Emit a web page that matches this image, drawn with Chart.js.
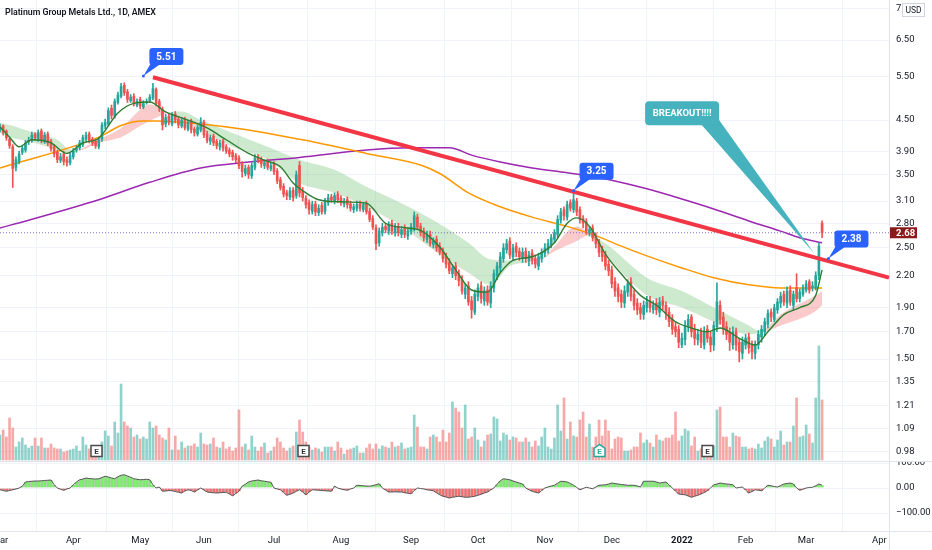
<!DOCTYPE html>
<html>
<head>
<meta charset="utf-8">
<script src="https://cdn.jsdelivr.net/npm/chart.js@4.4.1/dist/chart.umd.min.js"></script>
<style>
  html, body { margin: 0; padding: 0; background: #fff; overflow: hidden; }
</style>
</head>
<body>
<canvas id="chart" width="932" height="550"></canvas>
<script>
// ---- data (one slot per trading day, Mar 1 2021 = 0) ----
const N = 280;
const monthIdx = [0, 23, 44, 64, 86, 107, 129, 150, 171, 192, 214, 234, 253, 276];
const monthLabels = ['Mar', 'Apr', 'May', 'Jun', 'Jul', 'Aug', 'Sep', 'Oct', 'Nov', 'Dec', '2022', 'Feb', 'Mar', 'Apr'];
const priceTicks = [7.5, 6.5, 5.5, 4.5, 3.9, 3.5, 3.1, 2.8, 2.5, 2.2, 1.9, 1.7, 1.5, 1.35, 1.21, 1.09, 0.98];
const oscTicks = [100, 0, -100];

const open = [
  4.30,4.38,4.28,4.12,3.98,3.62,3.72,3.88,3.92,4.08, 4.10,4.22,4.12,4.28,4.08,4.22,4.08,3.98,3.88,3.74,
  3.85,3.75,3.70,3.80,3.92,3.96,4.02,4.12,4.22,4.12, 4.08,3.98,4.12,4.38,4.42,4.75,4.58,4.88,5.02,5.28,
  5.12,4.92,5.02,4.82,4.95,4.78,4.88,4.92,4.98,5.18, 4.90,4.72,4.42,4.58,4.42,4.62,4.52,4.38,4.52,4.32,
  4.48,4.32,4.22,4.30,4.45,4.22,4.08,4.18,4.08,3.98, 4.08,3.98,3.92,3.88,3.82,3.78,3.68,3.52,3.62,3.48,
  3.62,3.80,3.76,3.65,3.72,3.60,3.68,3.56,3.42,3.32, 3.22,3.16,3.26,3.18,3.65,3.24,3.14,3.08,2.96,3.06,
  2.94,3.04,2.96,3.08,3.16,3.10,3.20,3.14,3.06,3.12, 3.06,2.98,3.00,3.06,2.98,3.06,2.96,2.86,2.74,2.56,
  2.68,2.76,2.70,2.80,2.68,2.76,2.66,2.74,2.64,2.70, 2.74,2.88,2.76,2.70,2.60,2.66,2.54,2.60,2.52,2.46,
  2.40,2.34,2.22,2.30,2.22,2.16,2.02,2.10,1.96,1.86, 2.00,2.10,1.96,2.06,1.94,2.08,2.20,2.28,2.38,2.48,
  2.58,2.40,2.52,2.46,2.38,2.46,2.36,2.44,2.38,2.30, 2.38,2.44,2.48,2.54,2.60,2.66,2.84,2.98,2.88,3.08,
  2.98,3.10,2.98,2.86,2.82,2.68,2.74,2.64,2.56,2.48, 2.42,2.32,2.26,2.14,2.08,2.02,1.94,2.04,2.14,2.02,
  1.94,1.90,1.84,1.90,1.96,1.88,1.94,1.86,1.96,1.92, 1.86,1.80,1.74,1.72,1.60,1.64,1.74,1.82,1.72,1.64,
  1.70,1.60,1.72,1.66,1.60,1.74,1.92,1.82,1.74,1.70, 1.60,1.70,1.62,1.54,1.60,1.66,1.60,1.54,1.60,1.66,
  1.70,1.76,1.86,1.80,1.88,1.94,2.02,1.94,2.06,1.92, 2.08,1.98,2.02,2.06,2.14,2.08,2.08,2.20,2.80
];
const high = [
  4.42,4.40,4.30,4.15,4.02,3.80,3.90,4.00,4.10,4.16, 4.26,4.25,4.30,4.32,4.25,4.26,4.12,4.02,3.92,3.86,
  3.90,3.80,3.86,3.95,4.00,4.10,4.20,4.26,4.26,4.16, 4.12,4.15,4.45,4.52,4.76,4.82,4.96,5.12,5.33,5.34,
  5.18,5.06,5.08,4.96,5.00,4.92,4.96,5.06,5.33,5.22, 4.95,4.78,4.62,4.64,4.66,4.68,4.58,4.56,4.56,4.50,
  4.52,4.36,4.40,4.55,4.50,4.28,4.20,4.22,4.12,4.10, 4.12,4.02,3.96,3.92,3.86,3.82,3.72,3.66,3.66,3.70,
  3.84,3.84,3.80,3.75,3.76,3.70,3.72,3.60,3.46,3.36, 3.26,3.30,3.30,3.56,3.72,3.30,3.18,3.12,3.10,3.10,
  3.05,3.08,3.14,3.20,3.20,3.22,3.24,3.18,3.14,3.16, 3.10,3.06,3.10,3.10,3.08,3.10,3.00,2.90,2.78,2.74,
  2.80,2.80,2.82,2.84,2.80,2.80,2.76,2.78,2.74,2.80, 2.95,2.92,2.80,2.74,2.70,2.70,2.62,2.64,2.56,2.50,
  2.44,2.38,2.32,2.34,2.26,2.20,2.12,2.14,2.00,2.06, 2.12,2.14,2.09,2.10,2.14,2.26,2.34,2.45,2.55,2.60,
  2.62,2.54,2.56,2.50,2.50,2.50,2.46,2.48,2.42,2.44, 2.49,2.55,2.60,2.66,2.72,2.90,3.00,3.02,3.10,3.12,
  3.22,3.14,3.02,2.90,2.86,2.76,2.78,2.68,2.60,2.52, 2.46,2.36,2.30,2.18,2.12,2.06,2.10,2.16,2.18,2.06,
  1.98,1.94,1.96,2.00,2.00,1.96,1.98,1.99,2.00,1.95, 1.90,1.84,1.78,1.75,1.69,1.79,1.84,1.84,1.76,1.72,
  1.73,1.74,1.75,1.70,1.78,2.13,1.96,1.86,1.78,1.73, 1.74,1.73,1.65,1.66,1.68,1.69,1.63,1.63,1.71,1.75,
  1.81,1.88,1.89,1.93,1.98,2.04,2.05,2.09,2.10,2.05, 2.22,2.07,2.11,2.15,2.16,2.14,2.24,2.56,2.83
];
const low = [
  4.26,4.20,4.10,3.95,3.30,3.56,3.68,3.84,3.88,4.02, 4.06,4.10,4.08,4.05,4.04,4.00,3.90,3.80,3.70,3.70,
  3.66,3.64,3.66,3.76,3.88,3.92,3.98,4.08,4.05,4.00, 3.95,3.94,4.08,4.32,4.38,4.52,4.54,4.84,4.98,5.04,
  4.88,4.88,4.80,4.78,4.74,4.74,4.84,4.88,4.94,4.80, 4.68,4.30,4.36,4.40,4.38,4.44,4.34,4.34,4.30,4.28,
  4.24,4.18,4.18,4.26,4.15,4.05,4.02,4.00,3.94,3.92, 3.90,3.86,3.80,3.74,3.70,3.60,3.46,3.48,3.44,3.44,
  3.58,3.70,3.62,3.60,3.58,3.56,3.50,3.36,3.26,3.16, 3.12,3.12,3.10,3.14,3.16,3.10,3.00,2.92,2.92,2.90,
  2.90,2.92,2.92,3.04,3.08,3.06,3.08,3.04,3.02,3.00, 2.96,2.94,2.96,2.96,2.95,2.92,2.82,2.72,2.48,2.52,
  2.64,2.68,2.66,2.66,2.64,2.64,2.62,2.62,2.60,2.66, 2.70,2.72,2.64,2.58,2.56,2.52,2.50,2.46,2.42,2.34,
  2.28,2.22,2.18,2.16,2.10,2.02,1.98,1.92,1.81,1.84, 1.96,1.94,1.92,1.92,1.90,2.04,2.16,2.24,2.34,2.44,
  2.38,2.36,2.40,2.36,2.34,2.34,2.30,2.32,2.28,2.26, 2.34,2.40,2.44,2.50,2.56,2.62,2.80,2.84,2.84,2.96,
  2.94,2.90,2.80,2.74,2.66,2.64,2.58,2.50,2.40,2.35, 2.26,2.20,2.08,2.00,1.95,1.90,1.90,2.00,1.96,1.88,
  1.84,1.80,1.80,1.86,1.86,1.85,1.84,1.82,1.88,1.80, 1.74,1.68,1.66,1.58,1.58,1.60,1.70,1.66,1.60,1.60,
  1.58,1.57,1.62,1.55,1.56,1.70,1.76,1.68,1.64,1.56, 1.57,1.56,1.48,1.50,1.57,1.54,1.50,1.50,1.57,1.62,
  1.67,1.73,1.78,1.78,1.85,1.90,1.92,1.90,1.92,1.88, 1.95,1.95,2.00,2.04,2.03,2.05,2.06,2.16,2.62
];
const close = [
  4.35,4.25,4.15,4.00,3.60,3.75,3.85,3.95,4.05,4.10, 4.20,4.15,4.25,4.10,4.20,4.05,3.95,3.85,3.75,3.80,
  3.72,3.70,3.82,3.90,3.95,4.05,4.15,4.20,4.10,4.05, 4.00,4.10,4.40,4.45,4.70,4.60,4.90,5.05,5.25,5.10,
  4.95,5.00,4.85,4.90,4.80,4.85,4.90,5.00,5.20,4.85, 4.75,4.40,4.55,4.45,4.60,4.50,4.40,4.50,4.35,4.45,
  4.30,4.25,4.35,4.45,4.20,4.10,4.15,4.05,4.00,4.05, 3.95,3.90,3.85,3.80,3.75,3.65,3.55,3.60,3.50,3.65,
  3.78,3.75,3.68,3.70,3.62,3.65,3.55,3.40,3.30,3.20, 3.18,3.25,3.15,3.50,3.22,3.15,3.05,2.98,3.05,2.95,
  3.00,2.95,3.10,3.15,3.12,3.18,3.12,3.08,3.10,3.05, 3.00,3.02,3.05,3.00,3.05,2.95,2.85,2.75,2.55,2.70,
  2.75,2.72,2.78,2.70,2.75,2.68,2.72,2.66,2.70,2.75, 2.90,2.75,2.68,2.62,2.65,2.55,2.58,2.50,2.45,2.38,
  2.32,2.25,2.28,2.20,2.15,2.05,2.08,1.95,1.88,2.02, 2.08,1.98,2.05,1.95,2.10,2.22,2.30,2.40,2.50,2.55,
  2.42,2.50,2.45,2.40,2.45,2.38,2.42,2.36,2.32,2.40, 2.45,2.50,2.55,2.62,2.68,2.85,2.95,2.90,3.05,3.00,
  3.12,2.95,2.85,2.80,2.70,2.72,2.62,2.55,2.45,2.40, 2.30,2.25,2.12,2.05,2.00,1.95,2.05,2.12,2.00,1.92,
  1.88,1.85,1.92,1.95,1.90,1.92,1.88,1.95,1.92,1.85, 1.78,1.72,1.70,1.62,1.65,1.75,1.80,1.70,1.65,1.68,
  1.62,1.70,1.65,1.60,1.75,1.95,1.80,1.72,1.68,1.62, 1.70,1.60,1.55,1.62,1.65,1.58,1.55,1.60,1.68,1.72,
  1.78,1.85,1.82,1.90,1.95,2.00,1.95,2.05,1.95,2.02, 1.98,2.04,2.08,2.12,2.06,2.10,2.20,2.52,2.68
];
const volume = [
  25,30,23,42,32,13,18,22,15,12, 14,22,14,22,12,12,16,12,11,11, 8,9,10,11,14,9,23,15,11,12,
  10,12,18,29,24,14,38,27,76,38, 34,32,23,25,21,23,21,38,32,34, 25,22,20,32,10,24,10,18,12,14,
  14,16,13,27,16,15,16,22,13,12, 18,11,13,9,12,50,13,16,10,24, 13,9,13,17,7,9,13,22,18,12,
  9,12,14,28,40,28,18,13,10,12, 11,8,13,13,13,9,18,12,6,10, 11,12,14,7,7,12,16,11,16,11,
  14,13,12,18,13,14,17,11,12,13, 45,33,13,13,11,23,25,23,18,30, 18,27,58,52,48,32,55,21,23,32,
  20,13,19,25,26,43,41,19,27,25, 20,23,22,18,18,22,18,13,19,14, 23,32,13,11,22,55,29,62,21,38,
  24,23,40,48,23,36,13,23,40,24, 40,29,11,21,23,22,9,9,10,13, 13,27,17,20,17,13,25,20,19,22,
  22,25,48,19,24,31,29,14,23,9, 11,12,10,14,14,50,53,23,23,13, 27,24,23,13,13,11,12,11,16,12,
  19,23,21,13,20,29,15,18,18,34, 62,23,24,35,26,17,62,114,60
];
const osc = [
  -7,-10,-13,-10,-7,-4,0,7,24,26, 27,28,28,29,30,31,32,13,0,-5, -9,-4,0,13,24,33,36,40,38,37,
  36,37,42,47,44,40,37,45,51,53, 48,43,37,35,33,34,35,33,13,0, 4,-13,-12,-10,-11,-14,-17,-20,-12,-7,
  -10,-16,-8,0,-8,-16,-18,-19,-20,-19, -18,-17,-24,-31,-22,-13,7,15,24,28, 30,32,29,27,25,23,0,-4,-7,-18,
  -29,-25,-20,-13,-7,-16,-27,-16,-7,-8, -9,-10,-11,-12,-13,7,0,-4,-7,-9, -4,0,11,10,9,8,7,10,13,17,
  0,-8,-16,-16,-15,-16,-16,-19,-21,-23, -10,0,-2,-4,-7,-9,-11,-19,-27,-33, -36,-40,-37,-35,-33,-35,-37,-37,-35,-33,
  -29,-25,-20,-16,-8,0,15,29,37,35, 33,28,24,20,16,0,-7,-13,-17,-20, -10,0,4,8,11,19,27,26,24,18,
  11,2,-7,-2,3,0,-3,4,11,12, 13,16,20,18,16,14,13,11,11,11, 8,4,27,27,27,27,24,20,22,24,
  12,0,-12,-24,-26,-27,-32,-37,-33,-29, -24,-18,-11,0,13,16,20,18,16,15, 13,0,2,4,-8,-20,-14,-7,-9,-11,
  0,11,9,6,4,10,16,18,20,16, 0,-9,-5,0,2,3,9,16,11
];
// moving averages read at sample days: [day, value]
const fastMA = [[0,4.36],[3,4.16],[6,3.98],[10,4.11],[16,4.05],[21,3.86],[26,4.05],[31,4.14],[37,4.65],[42,4.86],
  [47,4.89],[52,4.67],[59,4.50],[65,4.34],[71,4.11],[78,3.86],[83,3.74],[88,3.63],[92,3.37],[96,3.22],[100,3.12],
  [107,3.09],[115,3.07],[121,2.80],[128,2.74],[132,2.71],[138,2.51],[143,2.26],[148,2.06],[153,2.04],[157,2.23],
  [161,2.36],[167,2.40],[174,2.56],[178,2.80],[181,2.87],[185,2.76],[190,2.43],[196,2.18],[201,2.01],[206,1.92],
  [212,1.78],[217,1.73],[222,1.70],[226,1.73],[232,1.65],[237,1.60],[241,1.70],[246,1.84],[251,1.90],[256,2.01],[258,2.26]];
const ma100 = [[0,3.61],[31,4.16],[38,4.39],[45,4.48],[49,4.48],[63,4.42],[78,4.30],[94,4.12],[100,4.05],[115,3.86],
  [132,3.66],[138,3.52],[147,3.22],[157,3.02],[167,2.88],[178,2.76],[188,2.63],[193,2.55],[203,2.41],[214,2.28],
  [224,2.18],[235,2.11],[245,2.08],[258,2.08]];
const ma200 = [[0,2.74],[9,2.84],[31,3.12],[47,3.38],[63,3.61],[78,3.71],[94,3.79],[115,3.92],[129,3.96],[141,3.96],
  [148,3.83],[157,3.71],[167,3.61],[178,3.53],[188,3.45],[193,3.40],[203,3.28],[214,3.13],[224,2.99],[235,2.83],
  [245,2.70],[251,2.62],[258,2.56]];
// cloud: [day, slow edge, fast edge]
const cloud = [[0,4.44,4.24],[3,4.40,4.16],[10,4.26,4.07],[18,4.11,3.92],[22,3.93,3.86],[25,3.92,3.93],[31,4.06,4.12],
  [38,4.16,4.34],[44,4.38,4.72],[47,4.48,4.84],[50,4.58,4.76],[53,4.66,4.64],[57,4.68,4.52],[63,4.50,4.30],
  [73,4.24,3.98],[84,3.98,3.75],[94,3.75,3.37],[105,3.58,3.22],[115,3.31,3.02],[126,3.07,2.76],[136,2.84,2.48],
  [147,2.56,2.23],[154,2.37,2.11],[160,2.36,2.30],[166,2.36,2.34],[170,2.37,2.38],[173,2.44,2.48],[181,2.58,2.76],
  [185,2.65,2.66],[190,2.55,2.43],[203,2.18,2.01],[214,2.05,1.90],[224,1.90,1.78],[235,1.75,1.68],[239,1.70,1.70],
  [245,1.75,1.84],[256,1.87,2.01],[258,1.92,2.05]];
const trendLine = [[48, 5.48], [279, 2.18]];
const lastPrice = 2.68;
const callouts = [[45, 5.51, '5.51'], [180, 3.25, '3.25'], [260, 2.38, '2.38']];
const breakout = [255.5, 2.44, 'BREAKOUT!!!!'];
const earnings = [30, 95, 188, 222];

// ---- styling ----
const FONT = 'Roboto, "Liberation Sans", sans-serif';
const UP = '#26a69a', DOWN = '#ef5350';
const GRID = '#f0f3fa', EDGE = '#e0e3eb', TXT = '#131722';

function sparse(pairs, col) {
  const a = new Array(N).fill(null);
  pairs.forEach(p => { a[p[0]] = p[col]; });
  return a;
}
const labels = Array.from({length: N}, (_, i) => String(i));
const isUp = close.map((c, i) => c >= open[i]);

const lineBase = { type: 'line', pointRadius: 0, spanGaps: true, cubicInterpolationMode: 'monotone', fill: false };

const overlay = {
  id: 'overlay',
  afterDatasetsDraw(chart) {
    const { ctx, scales } = chart;
    const x = scales.x, y = scales.y, yo = scales.yo;
    ctx.save();
    // earnings markers
    earnings.forEach(d => {
      const px = Math.round(x.getPixelForValue(d)) + 0.5;
      const top = yo.top - 15.5;
      ctx.lineWidth = 1.5;
      ctx.fillStyle = '#fff';
      ctx.beginPath();
      if (d === 188) {
        ctx.strokeStyle = '#26a69a';
        ctx.moveTo(px - 5.5, top + 3); ctx.lineTo(px, top - 1); ctx.lineTo(px + 5.5, top + 3);
        ctx.lineTo(px + 5.5, top + 11); ctx.lineTo(px - 5.5, top + 11); ctx.closePath();
      } else {
        ctx.strokeStyle = '#4a4a4a';
        ctx.rect(px - 5.5, top, 11, 11);
      }
      ctx.fill(); ctx.stroke();
      ctx.fillStyle = d === 188 ? '#26a69a' : '#333';
      ctx.font = 'bold 8px ' + FONT;
      ctx.textAlign = 'center'; ctx.textBaseline = 'middle';
      ctx.fillText('E', px, top + 6);
    });
    // callouts
    function box(bx, by, w, h, r) {
      ctx.beginPath();
      ctx.moveTo(bx + r, by); ctx.lineTo(bx + w - r, by); ctx.quadraticCurveTo(bx + w, by, bx + w, by + r);
      ctx.lineTo(bx + w, by + h - r); ctx.quadraticCurveTo(bx + w, by + h, bx + w - r, by + h);
      ctx.lineTo(bx + r, by + h); ctx.quadraticCurveTo(bx, by + h, bx, by + h - r);
      ctx.lineTo(bx, by + r); ctx.quadraticCurveTo(bx, by, bx + r, by); ctx.closePath(); ctx.fill();
    }
    callouts.forEach(c => {
      const px = x.getPixelForValue(c[0]), py = y.getPixelForValue(c[1]);
      ctx.fillStyle = '#2962ff';
      ctx.beginPath(); ctx.moveTo(px + 7, py - 12); ctx.lineTo(px + 17, py - 12); ctx.lineTo(px, py); ctx.closePath(); ctx.fill();
      ctx.beginPath(); ctx.arc(px, py, 1.5, 0, Math.PI * 2); ctx.fill();
      box(px + 6, py - 28, 34, 17, 3);
      ctx.fillStyle = '#fff';
      ctx.font = 'bold 10px ' + FONT;
      ctx.textAlign = 'center'; ctx.textBaseline = 'middle';
      ctx.fillText(c[2], px + 23, py - 19);
    });
    const bpx = x.getPixelForValue(breakout[0]), bpy = y.getPixelForValue(breakout[1]);
    ctx.fillStyle = '#45b2be';
    ctx.beginPath(); ctx.moveTo(bpx - 113, bpy - 129); ctx.lineTo(bpx - 97, bpy - 136); ctx.lineTo(bpx, bpy); ctx.closePath(); ctx.fill();
    box(bpx - 169, bpy - 152, 74, 24, 4);
    ctx.fillStyle = '#fff';
    ctx.font = 'bold 9.5px ' + FONT;
    ctx.textAlign = 'center'; ctx.textBaseline = 'middle';
    ctx.fillText(breakout[2], bpx - 132, bpy - 140);
    ctx.restore();
  },
  afterDraw(chart) {
    const { ctx, scales, chartArea } = chart;
    const y = scales.y, yo = scales.yo;
    const sepY = Math.round(yo.top) + 0.5;
    ctx.save();
    // the oscillator pane clips the top of its first label
    ctx.fillStyle = '#fff';
    ctx.fillRect(chartArea.right + 1, sepY - 5, 932 - chartArea.right, 5);
    // pane separator, bottom edge and axis edge running through the label rows
    ctx.strokeStyle = EDGE; ctx.lineWidth = 1;
    ctx.beginPath();
    ctx.moveTo(0, sepY); ctx.lineTo(932, sepY);
    ctx.moveTo(chartArea.right, Math.round(chartArea.bottom) + 0.5); ctx.lineTo(932, Math.round(chartArea.bottom) + 0.5);
    ctx.moveTo(Math.round(chartArea.right) + 0.5, chartArea.bottom); ctx.lineTo(Math.round(chartArea.right) + 0.5, 550);
    ctx.stroke();
    // last price tag
    const py = y.getPixelForValue(lastPrice);
    ctx.fillStyle = '#8b1a1a';
    ctx.fillRect(chartArea.right + 1, py - 5.5, 27, 11);
    ctx.fillStyle = '#fff';
    ctx.font = 'bold 9.5px ' + FONT;
    ctx.textAlign = 'left'; ctx.textBaseline = 'middle';
    ctx.fillText(lastPrice.toFixed(2), chartArea.right + 7, py + 0.5);
    // currency box
    ctx.fillStyle = '#fff';
    ctx.fillRect(chartArea.right + 13, 2, 23, 15);
    ctx.strokeStyle = '#d1d4dc';
    ctx.strokeRect(chartArea.right + 13.5, 3.5, 22, 13);
    ctx.fillStyle = TXT;
    ctx.font = '8.5px ' + FONT;
    ctx.textAlign = 'center';
    ctx.fillText('USD', chartArea.right + 24.5, 10.5);
    // title, sized to the width it has in the picture
    const title = 'Platinum Group Metals Ltd., 1D, AMEX';
    ctx.textAlign = 'left';
    ctx.font = '600 10px ' + FONT;
    const size = 10 * 151 / ctx.measureText(title).width;
    ctx.font = '600 ' + size.toFixed(2) + 'px ' + FONT;
    ctx.fillText(title, 5, 12.5);
    ctx.restore();
  }
};

new Chart(document.getElementById('chart'), {
  data: {
    labels: labels,
    datasets: [
      { type: 'bar', yAxisID: 'yv', data: volume, grouped: false, barThickness: 2, order: 20,
        backgroundColor: volume.map((v, i) => isUp[i] ? 'rgba(38,166,154,0.5)' : 'rgba(239,83,80,0.5)') },
      Object.assign({}, lineBase, { data: sparse(cloud, 1), borderWidth: 0, borderColor: 'rgba(0,0,0,0)', order: 16,
        fill: { target: '+1', above: 'rgba(76,175,80,0.28)', below: 'rgba(239,83,80,0.3)' } }),
      Object.assign({}, lineBase, { data: sparse(cloud, 2), borderWidth: 0, borderColor: 'rgba(0,0,0,0)', order: 16 }),
      { type: 'bar', yAxisID: 'yo', data: osc, grouped: false, barPercentage: 1, categoryPercentage: 1, order: 14,
        borderWidth: { left: 1, right: 0, top: 0, bottom: 0 }, borderColor: 'rgba(70,70,70,0.3)', borderSkipped: false,
        backgroundColor: osc.map(v => v >= 0 ? '#7eea6e' : '#f07070') },
      { type: 'line', yAxisID: 'yo', data: osc, borderColor: '#555', borderWidth: 1, pointRadius: 0, order: 13 },
      Object.assign({}, lineBase, { data: sparse(ma200, 1), borderColor: '#9c27b0', borderWidth: 1.5, order: 12 }),
      Object.assign({}, lineBase, { data: sparse(ma100, 1), borderColor: '#ff9800', borderWidth: 1.5, order: 11 }),
      Object.assign({}, lineBase, { data: sparse([[0, lastPrice], [N - 1, lastPrice]], 1), borderColor: '#7e6cc8',
        borderWidth: 1, borderDash: [1, 2], cubicInterpolationMode: 'default', order: 10 }),
      { type: 'bar', data: low.map((l, i) => [l, high[i]]), grouped: false, barThickness: 1, order: 6,
        backgroundColor: isUp.map(u => u ? UP : DOWN) },
      { type: 'bar', data: open.map((o, i) => [o, close[i]]), grouped: false, barThickness: 2, order: 5,
        backgroundColor: isUp.map(u => u ? UP : DOWN) },
      Object.assign({}, lineBase, { data: sparse(fastMA, 1), borderColor: '#2e7d32', borderWidth: 1.4, order: 4 }),
      Object.assign({}, lineBase, { data: sparse(trendLine, 1), borderColor: '#f23645', borderWidth: 4,
        cubicInterpolationMode: 'default', order: 1 })
    ]
  },
  options: {
    responsive: false,
    animation: false,
    events: [],
    layout: { padding: 0 },
    plugins: { legend: { display: false }, tooltip: { enabled: false } },
    scales: {
      x: {
        type: 'category', offset: false,
        grid: { color: GRID, drawTicks: false },
        border: { color: EDGE },
        afterBuildTicks: s => { s.ticks = monthIdx.map(v => ({ value: v })); },
        afterFit: s => { s.height = 19; s.paddingLeft = 0; s.paddingRight = 0; },
        ticks: {
          autoSkip: false, maxRotation: 0, padding: 4, color: TXT,
          font: c => ({ family: FONT, size: 9.5, weight: (c.tick && c.tick.value === 214) ? 'bold' : 'normal' }),
          callback: v => { const k = monthIdx.indexOf(v); return k >= 0 ? monthLabels[k] : ''; }
        }
      },
      y: {
        type: 'logarithmic', position: 'right', stack: 'pane', stackWeight: 461,
        min: 0.9385, max: 7.815, bounds: 'data',
        grid: { color: GRID, drawTicks: false },
        border: { color: EDGE },
        afterBuildTicks: s => { s.ticks = priceTicks.map(v => ({ value: v })); },
        afterFit: s => { s.width = 43; s.paddingTop = 0; s.paddingBottom = 0; },
        ticks: { autoSkip: false, padding: 7, color: TXT, font: { family: FONT, size: 9.5 },
          callback: v => Number(v).toFixed(2) }
      },
      yo: {
        type: 'linear', position: 'right', stack: 'pane', stackWeight: 70,
        min: -172, max: 108, bounds: 'data',
        grid: { color: GRID, drawTicks: false },
        border: { color: EDGE },
        afterBuildTicks: s => { s.ticks = oscTicks.map(v => ({ value: v })); },
        afterFit: s => { s.width = 43; s.paddingTop = 0; s.paddingBottom = 0; },
        ticks: { autoSkip: false, padding: 7, color: TXT, font: { family: FONT, size: 9.5 },
          callback: v => (v < 0 ? '\u2212' + Math.abs(v).toFixed(2) : v.toFixed(2)) }
      },
      yv: { type: 'linear', display: false, min: -71, max: 460, bounds: 'data' }
    }
  },
  plugins: [overlay]
});
</script>
</body>
</html>
